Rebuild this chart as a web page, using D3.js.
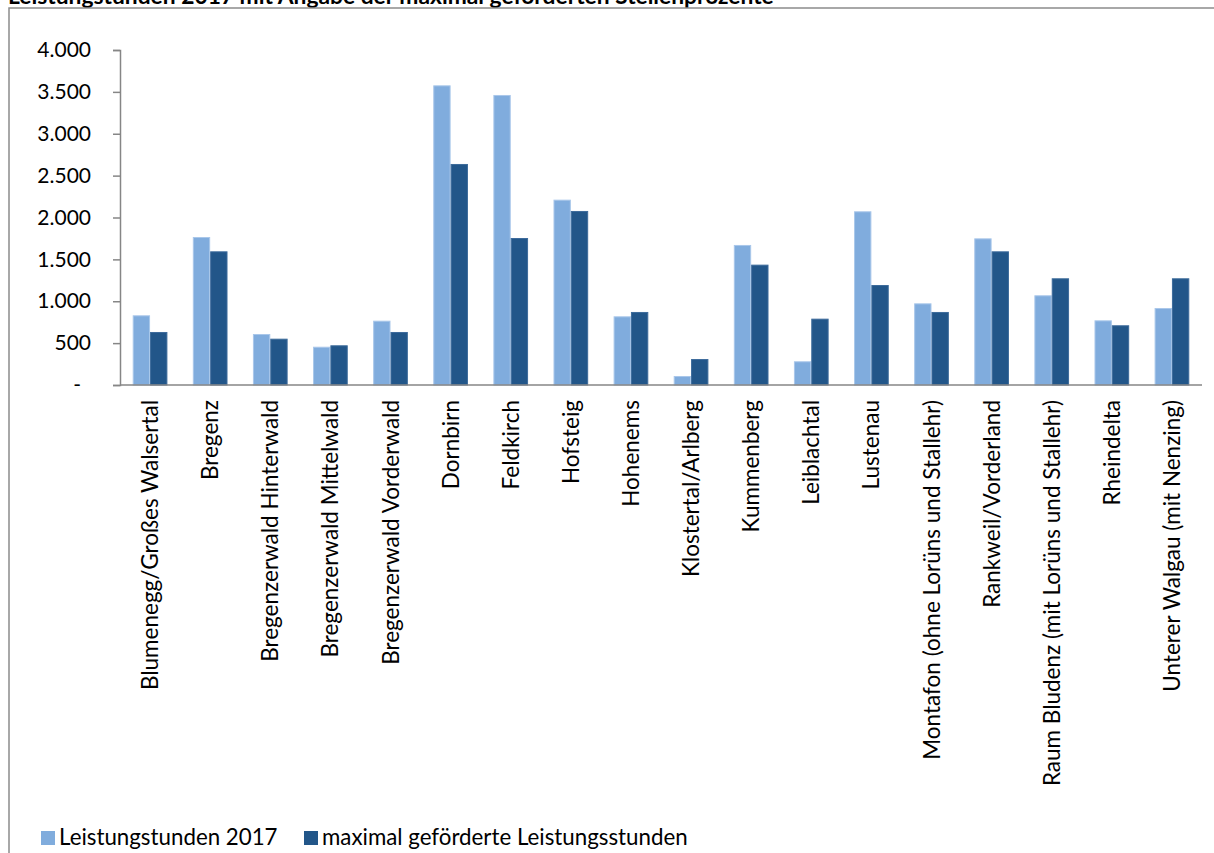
<!DOCTYPE html>
<html lang="de">
<head>
<meta charset="utf-8">
<title>Leistungsstunden 2017</title>
<script src="https://cdn.jsdelivr.net/npm/d3@7"></script>
<style>
  html, body { margin: 0; padding: 0; background: #fff; }
  svg { display: block; }
  text { font-family: Lato, "Open Sans", sans-serif; fill: #000; }
</style>
</head>
<body>
<svg id="chart" width="1214" height="853"></svg>
<script>
// Regionen (Kategorien)
const regions = [
  "Blumenegg/Großes Walsertal",
  "Bregenz",
  "Bregenzerwald Hinterwald",
  "Bregenzerwald Mittelwald",
  "Bregenzerwald Vorderwald",
  "Dornbirn",
  "Feldkirch",
  "Hofsteig",
  "Hohenems",
  "Klostertal/Arlberg",
  "Kummenberg",
  "Leiblachtal",
  "Lustenau",
  "Montafon (ohne Lorüns und Stallehr)",
  "Rankweil/Vorderland",
  "Raum Bludenz (mit Lorüns und Stallehr)",
  "Rheindelta",
  "Unterer Walgau (mit Nenzing)"
];

// Leistungstunden 2017
const hours2017 = [832, 1767, 609, 457, 768, 3578, 3463, 2213, 820, 107, 1672, 283, 2074, 975, 1751, 1071, 772, 919];

// maximal geförderte Leistungsstunden
const maxFunded = [633, 1596, 553, 474, 633, 2639, 1755, 2078, 872, 310, 1437, 792, 1194, 872, 1596, 1274, 713, 1274];

const seriesNames = ["Leistungstunden 2017", "maximal geförderte Leistungsstunden"];
const seriesColors = ["#80acdd", "#225689"];
const seriesStrokes = ["#a9c7ea", "#3d6b9b"];

const yTicks = [0, 500, 1000, 1500, 2000, 2500, 3000, 3500, 4000];
const titleText = "Leistungstunden 2017 mit Angabe der maximal geförderten Stellenprozente";

const svg = d3.select("#chart");

// Titel (oben angeschnitten)
svg.append("text")
  .attr("x", 8).attr("y", 4)
  .attr("font-size", 22.8).attr("font-weight", "bold")
  .text(titleText);

// Diagrammrahmen
svg.append("rect")
  .attr("x", 9).attr("y", 8)
  .attr("width", 1240).attr("height", 900)
  .attr("fill", "none").attr("stroke", "#8c8c8c").attr("stroke-width", 1.5);

const plotLeft = 120, plotRight = 1202, plotTop = 50, plotBottom = 385;

const y = d3.scaleLinear().domain([0, 4000]).range([plotBottom, plotTop]);
const x0 = d3.scaleBand().domain(regions).range([plotLeft, plotRight])
  .paddingInner(0.423).paddingOuter(0.2115);
const x1 = d3.scaleBand().domain([0, 1]).range([0, x0.bandwidth()]);

const fmt = d3.formatLocale({ decimal: ",", thousands: ".", grouping: [3], currency: ["", " €"] }).format(",d");

// Balken
const data = regions.map((r, i) => ({ region: r, values: [hours2017[i], maxFunded[i]] }));
const groups = svg.append("g").selectAll("g").data(data).join("g")
  .attr("transform", d => `translate(${x0(d.region)},0)`);
groups.selectAll("rect")
  .data(d => d.values.map((v, k) => ({ k, v })))
  .join("rect")
  .attr("x", d => x1(d.k) + 0.5)
  .attr("y", d => y(d.v) + 0.5)
  .attr("width", x1.bandwidth() - 1)
  .attr("height", d => plotBottom - y(d.v) - 0.5)
  .attr("fill", d => seriesColors[d.k])
  .attr("stroke", d => seriesStrokes[d.k])
  .attr("stroke-width", 1);

// Y-Achse
const yAxis = svg.append("g")
  .attr("transform", `translate(${plotLeft},0)`)
  .call(d3.axisLeft(y).tickValues(yTicks).tickSize(7).tickPadding(22)
    .tickFormat(v => v === 0 ? "-" : fmt(v)));
yAxis.select(".domain").attr("stroke", "#868686").attr("stroke-width", 1.5);
yAxis.selectAll(".tick line").attr("stroke", "#868686").attr("stroke-width", 1.5);
yAxis.selectAll(".tick text")
  .attr("font-family", "Lato, sans-serif").attr("font-size", 21).attr("fill", "#000")
  .attr("dx", v => v === 0 ? -10 : 0);

// X-Achse
const xAxis = svg.append("g")
  .attr("transform", `translate(0,${plotBottom})`)
  .call(d3.axisBottom(x0).tickSize(0).tickPadding(0));
xAxis.select(".domain").attr("stroke", "#868686").attr("stroke-width", 1.5)
  .attr("d", `M${plotLeft},0H${plotRight}`);
xAxis.selectAll(".tick text")
  .attr("font-family", "Lato, sans-serif").attr("font-size", 22.5).attr("fill", "#000")
  .attr("text-anchor", "end")
  .attr("transform", "rotate(-90)")
  .attr("x", -15).attr("y", 8).attr("dy", 0);

// Legende
const legendItems = [
  { name: seriesNames[0], color: seriesColors[0], x: 41 },
  { name: seriesNames[1], color: seriesColors[1], x: 304 }
];
const legend = svg.append("g").selectAll("g").data(legendItems).join("g")
  .attr("transform", d => `translate(${d.x},831)`);
legend.append("rect").attr("width", 14).attr("height", 14).attr("fill", d => d.color);
legend.append("text").attr("x", 18).attr("y", 14)
  .attr("font-size", 22.3).text(d => d.name);
</script>
</body>
</html>
